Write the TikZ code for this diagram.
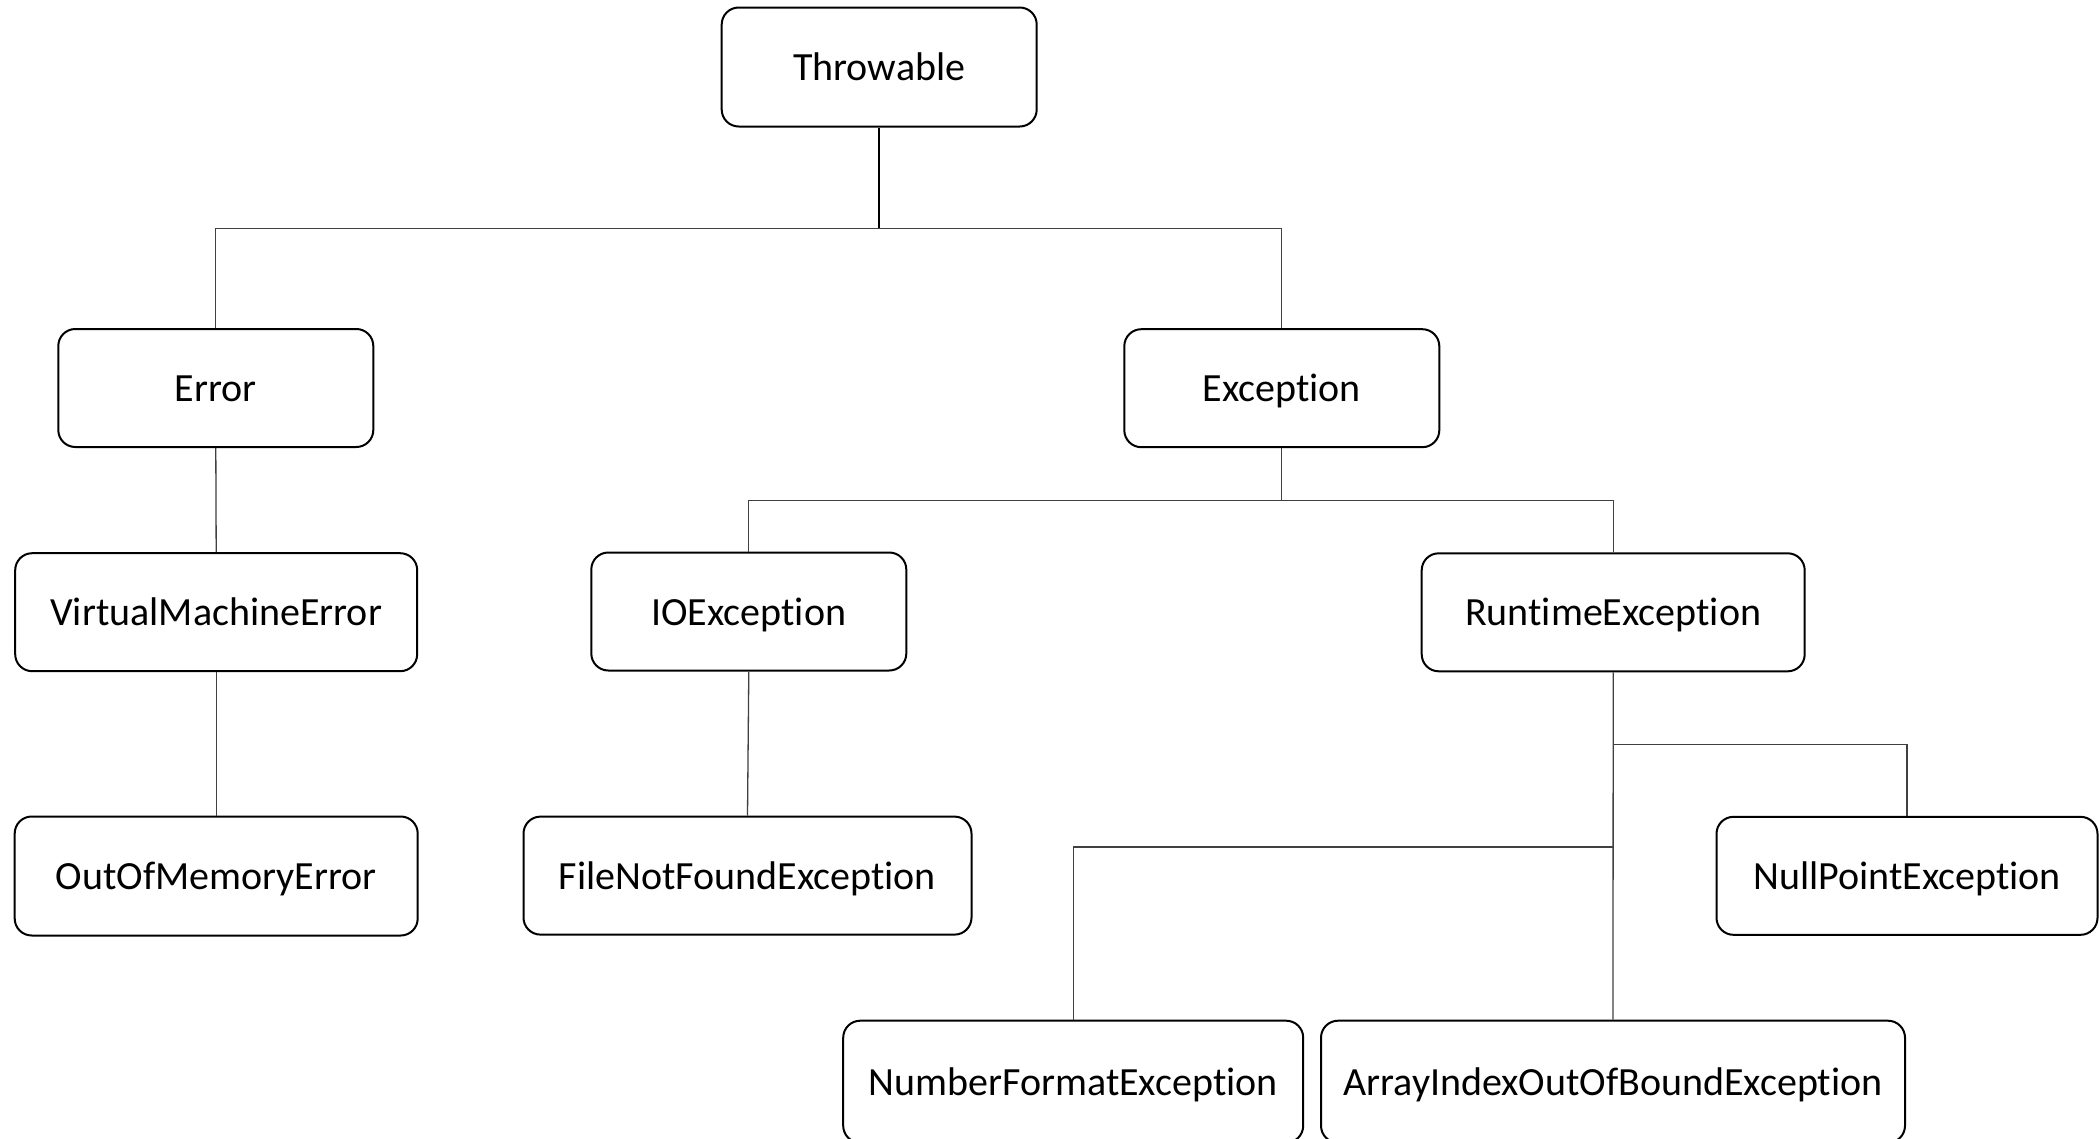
\documentclass[tikz,border=0pt]{standalone}
\usepackage{fontspec}
\setmainfont[Ligatures=NoCommon]{Carlito}
\begin{document}
\begin{tikzpicture}[x=1pt,y=-1pt,
  box/.style={draw=black,line width=2pt,rounded corners=17pt,inner sep=0pt,
    text height=31pt,text depth=4pt,
    font=\fontsize{40}{48}\selectfont},
  link/.style={draw=black!75,line width=1.3pt}]
\useasboundingbox (0,0) rectangle (2099,1138);
\clip (0,0) rectangle (2099,1138);
\fill[white] (0,0) rectangle (2099,1138);
\node[box,minimum width=315pt,minimum height=119pt] (thr) at (879.2,67) {Throwable};
\node[box,minimum width=315pt,minimum height=118pt] (err) at (215.8,388) {Error};
\node[box,minimum width=315pt,minimum height=118pt] (exc) at (1281.8,388.2) {Exception};
\node[box,minimum width=402pt,minimum height=118pt] (vme) at (216.2,612.2) {VirtualMachineError};
\node[box,minimum width=315pt,minimum height=118pt] (ioe) at (748.8,611.5) {IOException};
\node[box,minimum width=383pt,minimum height=118pt] (rte) at (1613.2,612.3) {RuntimeException};
\node[box,minimum width=403pt,minimum height=119pt] (oom) at (216.2,876) {OutOfMemoryError};
\node[box,minimum width=448pt,minimum height=118pt] (fnf) at (747.5,875.6) {FileNotFoundException};
\node[box,minimum width=381pt,minimum height=118pt] (npe) at (1907,875.8) {NullPointException};
\node[box,minimum width=460pt,minimum height=122pt] (nfe) at (1073.2,1081.7) {NumberFormatException};
\node[box,minimum width=584pt,minimum height=122pt] (aio) at (1613,1081.7) {ArrayIndexOutOfBoundException};
\coordinate (b1) at (879.2,228.3);
\coordinate (b2) at (1281.8,500.5);
\coordinate (b3) at (1613.2,744.5);
\coordinate (b4) at (1613.2,847);
\draw[link,draw=black,line width=1.6pt] (thr.south) -- (b1);
\draw[link] (err.north) -- (err.north |- b1) -- (exc.north |- b1) -- (exc.north);
\draw[link] (exc.south) -- (b2);
\draw[link] (ioe.north) -- (ioe.north |- b2) -- (rte.north |- b2) -- (rte.north);
\draw[link] (err.south) -- (vme.north);
\draw[link] (vme.south) -- (oom.north);
\draw[link] (ioe.south) -- (fnf.north);
\draw[link] (rte.south) -- (aio.north);
\draw[link] (b3) -| (npe.north);
\draw[link] (b4) -| (nfe.north);
\end{tikzpicture}
\end{document}
